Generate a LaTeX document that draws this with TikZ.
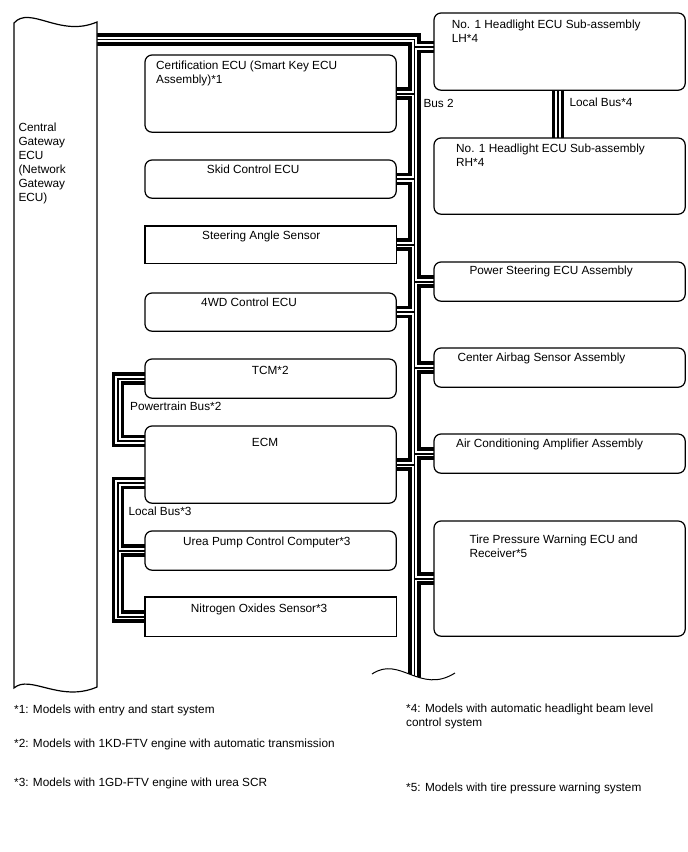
\documentclass[tikz,border=0pt]{standalone}
\usepackage{fontspec}
\setmainfont{Liberation Sans}
\newcommand\busnet[1]{%
  \draw[#1] (gwport) -- (spinetop) -- (spinebot);
  \draw[#1] (lhport) -- (lhport -| spinetop);
  \draw[#1] (cert.east) -- (cert.east -| spinetop);
  \draw[#1] (skid.east) -- (skid.east -| spinetop);
  \draw[#1] (steer.east) -- (steer.east -| spinetop);
  \draw[#1] (fwd.east) -- (fwd.east -| spinetop);
  \draw[#1] (ecm.east) -- (ecm.east -| spinetop);
  \draw[#1] (ps.west) -- (ps.west -| spinetop);
  \draw[#1] (cab.west) -- (cab.west -| spinetop);
  \draw[#1] (ac.west) -- (ac.west -| spinetop);
  \draw[#1] (tpw.west) -- (tpw.west -| spinetop);
  \draw[#1] (tcm.west) -- (tcm.west -| ptx) -- (ptport -| ptx) -- (ptport);
  \draw[#1] (lbport) -- (lbport -| ptx) -- (nox.west -| ptx) -- (nox.west);
  \draw[#1] (urea.west -| ptx) -- (urea.west);
  \draw[#1] (lh.south -| lbx) -- (rh.north -| lbx);
}
\begin{document}
\begin{tikzpicture}[x=1pt,y=-1pt,
  font=\fontsize{11.8}{13.9}\selectfont,
  box/.style={draw, line width=1.2pt, fill=white, rounded corners=7pt, inner sep=0pt, anchor=north west},
  rbox/.style={draw, line width=1.2pt, fill=white, inner sep=0pt, anchor=north west},
  txt/.style={inner sep=0pt, anchor=base west, align=left},
  busA/.style={line width=12.5pt, black},
  busB/.style={line width=5.5pt, white},
  busC/.style={line width=1.8pt, black}]
\useasboundingbox[fill=white] (0,0) rectangle (688,852);

% boxes (positions only, drawn later on top of buses)
\path
  node[box, minimum width=250pt, minimum height=76pt] (cert) at (145,55) {}
  node[box, minimum width=250pt, minimum height=37pt] (skid) at (145,160) {}
  node[rbox, minimum width=250pt, minimum height=36pt] (steer) at (145,226) {}
  node[box, minimum width=250pt, minimum height=37pt] (fwd) at (145,293) {}
  node[box, minimum width=250pt, minimum height=38pt] (tcm) at (145,359) {}
  node[box, minimum width=250pt, minimum height=76pt] (ecm) at (145,426) {}
  node[box, minimum width=250pt, minimum height=38pt] (urea) at (145,531) {}
  node[rbox, minimum width=250pt, minimum height=38pt] (nox) at (145,597) {}
  node[box, minimum width=250pt, minimum height=76pt] (lh) at (434,13) {}
  node[box, minimum width=250pt, minimum height=75pt] (rh) at (434,138) {}
  node[box, minimum width=250pt, minimum height=38pt] (ps) at (434,262) {}
  node[box, minimum width=250pt, minimum height=38pt] (cab) at (434,348) {}
  node[box, minimum width=250pt, minimum height=38pt] (ac) at (434,434) {}
  node[box, minimum width=250pt, minimum height=114pt] (tpw) at (434,521) {};

\coordinate (gwport) at (97,39.5);
\coordinate (spinetop) at (414.5,39.5);
\coordinate (spinebot) at (414.5,684);
\coordinate (lhport) at (434,47);
\coordinate (ptx) at (118,0);
\coordinate (ptport) at (145,441);
\coordinate (lbport) at (145,483);
\coordinate (lbx) at (558,0);

% bus lines: outer black, white gap, thin centre line
\busnet{busA}
\busnet{busB}
\busnet{busC}

% spine cut-off wave
\fill[white] (372,674) .. controls (400,655) and (420,695) .. (455,673) -- (455,700) -- (372,700) -- cycle;
\draw[line width=1pt] (372,674) .. controls (400,655) and (420,695) .. (455,673);

% central gateway ECU (wavy top and bottom)
\draw[line width=1.2pt, fill=white] (14,23) .. controls (30,5) and (60,38) .. (97,22)
  -- (97,687) .. controls (60,703) and (30,674) .. (14,688) -- cycle;

% redraw boxes on top
\foreach \n in {cert,skid,fwd,tcm,ecm,urea,lh,rh,ps,cab,ac,tpw}
  \draw[line width=1.2pt, fill=white, rounded corners=7pt] (\n.north west) rectangle (\n.south east);
\foreach \n in {steer,nox}
  \draw[line width=1.2pt, fill=white] (\n.north west) rectangle (\n.south east);

% texts (multi-line nodes: base = last line)
\node[txt] (gwt) at (18.3,201.2) {Central\\Gateway\\ECU\\(Network\\Gateway\\ECU)};
\node[txt] (certt) at (156,83) {Certification ECU (Smart Key ECU\\Assembly)*1};
\node[txt] (skidt) at (206.7,173) {Skid Control ECU};
\node[txt] (steert) at (202,239) {Steering Angle Sensor};
\node[txt] (fwdt) at (201,306) {4WD Control ECU};
\node[txt] (tcmt) at (251.7,374) {TCM*2};
\node[txt] (ecmt) at (251.7,446) {ECM};
\node[txt] (ureat) at (183,545) {Urea Pump Control Computer*3};
\node[txt] (noxt) at (190.7,612) {Nitrogen Oxides Sensor*3};
\node[txt] (lht) at (451.7,42) {No. 1 Headlight ECU Sub-assembly\\LH*4};
\node[txt] (rht) at (456,166) {No. 1 Headlight ECU Sub-assembly\\RH*4};
\node[txt] (pst) at (469.3,274) {Power Steering ECU Assembly};
\node[txt] (cabt) at (457.3,361) {Center Airbag Sensor Assembly};
\node[txt] (act) at (456,447) {Air Conditioning Amplifier Assembly};
\node[txt] (tpwt) at (469.3,557) {Tire Pressure Warning ECU and\\Receiver*5};
\node[txt] (bus2) at (423.3,107) {Bus 2};
\node[txt] (lb4) at (569.3,106) {Local Bus*4};
\node[txt] (ptb) at (130,410) {Powertrain Bus*2};
\node[txt] (lb3) at (128.3,515) {Local Bus*3};

% footnotes
\node[txt] (f1) at (14,713) {*1: Models with entry and start system};
\node[txt] (f2) at (14,747) {*2: Models with 1KD-FTV engine with automatic transmission};
\node[txt] (f3) at (14,786) {*3: Models with 1GD-FTV engine with urea SCR};
\node[txt] (f4) at (406,726.5) {*4: Models with automatic headlight beam level\\control system};
\node[txt] (f5) at (406,791) {*5: Models with tire pressure warning system};
\end{tikzpicture}
\end{document}
